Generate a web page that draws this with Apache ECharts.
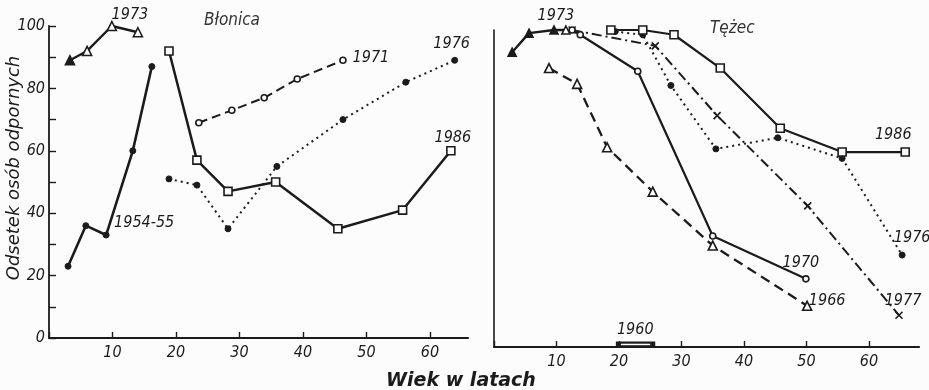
<!DOCTYPE html>
<html>
<head>
<meta charset="utf-8">
<script src="https://cdn.jsdelivr.net/npm/echarts@6/dist/echarts.min.js"></script>
<style>
  html, body { margin: 0; padding: 0; background: #fcfcfc; }
  #chart { width: 929px; height: 390px; }
</style>
</head>
<body>
<div id="chart"></div>
<script>
// ---- Błonica (diphtheria): age in years vs. percent immune ----
const bAge5455 = [3.0, 5.8, 9.0, 13.2, 16.2];
const bPct5455 = [23, 36, 33, 60, 87];
const bAge1973 = [3.3, 6.0, 9.9, 14.0];
const bPct1973 = [89, 92, 100, 98];
const bAge1986 = [18.9, 23.3, 28.2, 35.7, 45.5, 55.7, 63.3];
const bPct1986 = [92, 57, 47, 50, 35, 41, 60];
const bAge1971 = [23.6, 28.8, 33.9, 39.1, 46.3];
const bPct1971 = [69, 73, 77, 83, 89];
const bAge1976 = [18.9, 23.3, 28.2, 35.9, 46.3, 56.2, 63.9];
const bPct1976 = [51, 49, 35, 55, 70, 82, 89];

// ---- Tężec (tetanus) ----
const tAge1973 = [2.9, 5.6, 9.6, 11.5];
const tPct1973 = [93, 99, 100, 100];
const tAge1970 = [12.5, 13.8, 23.0, 35.0, 49.9];
const tPct1970 = [100, 98.5, 87, 35, 21.5];
const tAge1966 = [8.8, 13.3, 18.1, 25.4, 35.0, 50.1];
const tPct1966 = [88, 83, 63, 49, 32, 13];
const tAge1986 = [18.7, 23.8, 28.8, 36.2, 45.8, 55.7, 65.8];
const tPct1986 = [100, 100, 98.5, 88, 69, 61.5, 61.5];
const tAge1976 = [19.4, 23.8, 28.3, 35.5, 45.4, 55.7, 65.3];
const tPct1976 = [99.5, 98.5, 82.5, 62.5, 66, 59.5, 29];
const tAge1977 = [12.5, 25.8, 35.7, 50.2, 64.8];
const tPct1977 = [100, 95, 73, 44.5, 10];
const tAge1960 = [19.5, 25.8];
const tPct1960 = [0.8, 0.8];

// tick labels
const xTickLabels = [10, 20, 30, 40, 50, 60];
const yTickLabels = [0, 20, 40, 60, 80, 100];

const INK = '#1b1b1b';
const BG = '#fcfcfc';
const FONT = '"DejaVu Sans Condensed", "DejaVu Sans", "Liberation Sans", sans-serif';
const WIDE_FONT = '"DejaVu Sans", "Liberation Sans", sans-serif';

function zip(a, b) { return a.map((v, i) => [v, b[i]]); }

// build series data, attaching a year label to one point
function withLabel(points, idx, text, offset, filledIdx) {
  return points.map((p, i) => {
    const item = { value: p };
    if (filledIdx && filledIdx.indexOf(i) >= 0) {
      item.itemStyle = { color: INK };
    }
    if (i === idx) {
      item.label = {
        show: true, formatter: text, position: 'inside', offset: offset,
        color: INK, fontSize: 16, fontStyle: 'italic', fontFamily: FONT
      };
    }
    return item;
  });
}

const crossSymbol = 'path://M0,0L10,10M10,0L0,10';

function lineSeries(grid, name, data, opt) {
  return Object.assign({
    type: 'line', name: name, data: data,
    xAxisIndex: grid, yAxisIndex: grid,
    clip: false, animation: false, silent: true,
    symbolKeepAspect: true
  }, opt);
}

const openItem = { color: BG, borderColor: INK, borderWidth: 1.6 };
const fillItem = { color: INK, borderColor: INK, borderWidth: 1 };

const series = [
  lineSeries(0, '1954-55', withLabel(zip(bAge5455, bPct5455), 2, '1954-55', [38, -12]), {
    symbol: 'circle', symbolSize: 6, itemStyle: fillItem,
    lineStyle: { color: INK, width: 2.6 }
  }),
  lineSeries(0, 'B1973', withLabel(zip(bAge1973, bPct1973), 3, '1973', [-8, -17], [0]), {
    symbol: 'triangle', symbolSize: 9, itemStyle: openItem,
    lineStyle: { color: INK, width: 2.4 }
  }),
  lineSeries(0, 'B1971', withLabel(zip(bAge1971, bPct1971), 4, '1971', [28, -2]), {
    symbol: 'circle', symbolSize: 6, itemStyle: openItem,
    lineStyle: { color: INK, width: 2, type: [9, 5] }
  }),
  lineSeries(0, 'B1976', withLabel(zip(bAge1976, bPct1976), 6, '1976', [-3, -16]), {
    symbol: 'circle', symbolSize: 6, itemStyle: fillItem,
    lineStyle: { color: INK, width: 2, type: [2, 4] }
  }),
  lineSeries(0, 'B1986', withLabel(zip(bAge1986, bPct1986), 6, '1986', [2, -13]), {
    symbol: 'rect', symbolSize: 8, itemStyle: openItem,
    lineStyle: { color: INK, width: 2.5 }
  }),

  lineSeries(1, 'T1966', withLabel(zip(tAge1966, tPct1966), 5, '1966', [20, -5]), {
    symbol: 'triangle', symbolSize: 9, itemStyle: openItem,
    lineStyle: { color: INK, width: 2.3, type: [10, 6] }
  }),
  lineSeries(1, 'T1977', withLabel(zip(tAge1977, tPct1977), 4, '1977', [4, -14]), {
    symbol: crossSymbol, symbolSize: 7,
    itemStyle: { color: 'none', borderColor: INK, borderWidth: 1.6 },
    lineStyle: { color: INK, width: 2, type: [10, 4, 2, 4] }
  }),
  lineSeries(1, 'T1976', withLabel(zip(tAge1976, tPct1976), 6, '1976', [10, -17]), {
    symbol: 'circle', symbolSize: 6, itemStyle: fillItem,
    lineStyle: { color: INK, width: 2, type: [2, 4] }
  }),
  lineSeries(1, 'T1970', withLabel(zip(tAge1970, tPct1970), 4, '1970', [-5, -16]), {
    symbol: 'circle', symbolSize: 6, itemStyle: openItem,
    lineStyle: { color: INK, width: 2.2 }
  }),
  lineSeries(1, 'T1986', withLabel(zip(tAge1986, tPct1986), 6, '1986', [-12, -17]), {
    symbol: 'rect', symbolSize: 8, itemStyle: openItem,
    lineStyle: { color: INK, width: 2.2 }
  }),
  lineSeries(1, 'T1973', withLabel(zip(tAge1973, tPct1973), 3, '1973', [-10, -14], [0, 1, 2]), {
    symbol: 'triangle', symbolSize: 8, itemStyle: openItem,
    lineStyle: { color: INK, width: 2.4 }
  }),
  // 1960: short bar lying on the age axis
  lineSeries(1, 'T1960', withLabel(zip(tAge1960, tPct1960), 1, '1960', [-20, -15]), {
    symbol: 'circle', symbolSize: 1, showSymbol: true,
    itemStyle: { color: 'rgba(0,0,0,0)' },
    lineStyle: { color: INK, width: 6 }
  }),
  lineSeries(1, 'T1960in', [[tAge1960[0] + 0.8, tPct1960[0]], [tAge1960[1] - 0.8, tPct1960[1]]], {
    symbol: 'none', lineStyle: { color: BG, width: 1.5 }
  })
];

const tickText = {
  color: INK, fontSize: 16, fontStyle: 'italic', fontFamily: FONT
};

function xAxis(grid, max) {
  return {
    type: 'value', gridIndex: grid, min: 0, max: max, interval: 10,
    axisLine: { show: true, onZero: false, lineStyle: { color: INK, width: 2.2 } },
    axisTick: { show: true, inside: true, length: 6, lineStyle: { color: INK, width: 1.4 } },
    axisLabel: Object.assign({
      margin: 7, showMaxLabel: false,
      formatter: v => (xTickLabels.indexOf(v) >= 0 ? String(v) : '')
    }, tickText),
    splitLine: { show: false }
  };
}

const option = {
  backgroundColor: BG,
  animation: false,
  grid: [
    { left: 49, top: 26, width: 419, height: 312 },
    { left: 494, top: 30, width: 425, height: 317 }
  ],
  xAxis: [xAxis(0, 66), xAxis(1, 68)],
  yAxis: [
    {
      type: 'value', gridIndex: 0, min: 0, max: 100, interval: 10,
      axisLine: { show: true, lineStyle: { color: INK, width: 1.8 } },
      axisTick: { show: true, inside: true, length: 7, lineStyle: { color: INK, width: 1.4 } },
      axisLabel: Object.assign({
        margin: 4,
        formatter: v => (yTickLabels.indexOf(v) >= 0 ? String(v) : '')
      }, tickText),
      splitLine: { show: false }
    },
    {
      type: 'value', gridIndex: 1, min: 0, max: 100, interval: 10,
      axisLine: { show: true, lineStyle: { color: INK, width: 1.6 } },
      axisTick: { show: false },
      axisLabel: { show: false },
      splitLine: { show: false }
    }
  ],
  graphic: [
    {
      type: 'text', left: 204, top: 12,
      style: { text: 'Błonica', fill: '#333', font: 'italic 17px ' + FONT }
    },
    {
      type: 'text', left: 710, top: 20,
      style: { text: 'Tężec', fill: '#333', font: 'italic 17px ' + FONT }
    },
    {
      type: 'text', x: 14, y: 168, rotation: Math.PI / 2,
      style: {
        text: 'Odsetek osób odpornych', fill: INK,
        font: 'italic 18px ' + WIDE_FONT, align: 'center', verticalAlign: 'middle'
      }
    },
    {
      type: 'text', x: 461, y: 381,
      style: {
        text: 'Wiek w latach', fill: INK,
        font: 'italic bold 19px ' + WIDE_FONT, align: 'center', verticalAlign: 'middle'
      }
    }
  ],
  series: series
};

const chart = echarts.init(document.getElementById('chart'), null, { renderer: 'canvas' });
chart.setOption(option);
</script>
</body>
</html>
